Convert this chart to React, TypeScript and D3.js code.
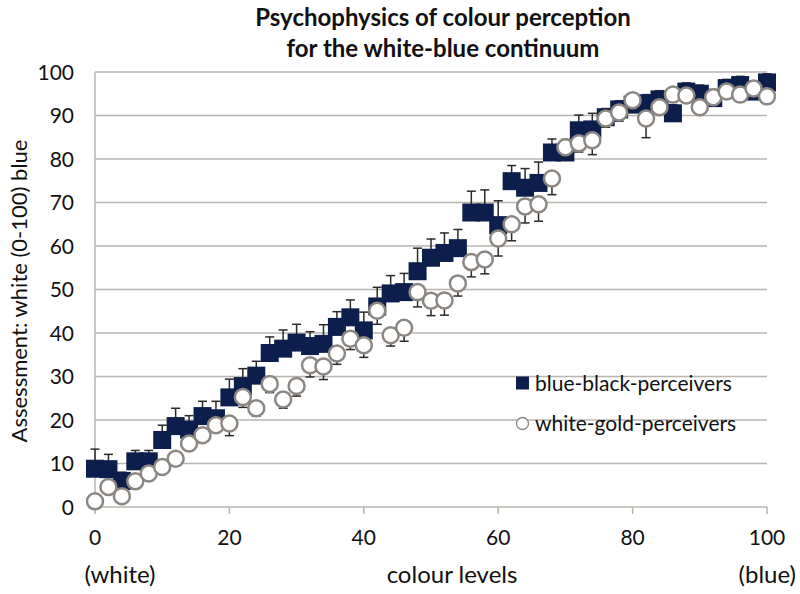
import React from "react";
import * as d3 from "d3";

const levels = [0,2,4,6,8,10,12,14,16,18,20,22,24,26,28,30,32,34,36,38,40,42,44,46,48,50,52,54,56,58,60,62,64,66,68,70,72,74,76,78,80,82,84,86,88,90,92,94,96,98,100];

const blueBlack = [8.8,8.7,6,10.5,10.5,15.4,18.6,17.8,20.9,20.4,25.2,27.8,30.2,35.4,36.4,37.8,37,37.5,41.4,43.6,40.6,46.1,49.1,49.4,54.2,57.3,58.4,59.5,67.7,67.7,64.8,74.9,73.4,74.5,81.5,81.5,86.6,86.8,89.6,91.4,92.5,92.8,93.7,90.5,95.5,95,94,96.3,97,95.5,97.6];
const blueBlackErr = [4.5,3.4,2,2.5,2.5,3.4,4.1,3.2,3.4,3.9,4.2,4,3.3,3.7,4.3,4.2,3.3,4.4,3.5,4,4.2,4.4,4.1,4.3,5.3,4.3,4.6,4.3,4.9,5.2,5.6,3.6,4.4,4.8,3.1,3,3.5,3.7,2,2,2,2,2,2,2,2,2,2,2,2,2];

const whiteGold = [1.3,4.6,2.5,5.9,7.7,9.2,11.1,14.6,16.5,18.8,19.2,25.3,22.7,28.3,24.7,27.8,32.6,32.3,35.3,38.7,37.2,45.1,39.5,41.2,49.4,47.4,47.5,51.4,56.3,56.9,61.7,65,69.1,69.6,75.5,82.7,83.6,84.3,89.3,90.7,93.5,89.3,91.9,94.8,94.6,91.9,94.2,95.5,94.8,96.2,94.4];
const whiteGoldErr = [1.5,1.5,1.5,1.5,1.5,1.5,1.5,1.5,1.5,1.5,2.8,2.4,1.8,2,2,2.3,2.7,3,2.5,2.5,2.8,3.1,2.5,3.1,3.4,3.4,3.4,2.9,3.4,3.3,4,3.8,3.8,3.9,3.7,2,2,3.3,2,2,2,4.4,1.5,1.5,1.5,1.5,1.5,1.5,1.5,1.5,1.5];

const yTicks = [0,10,20,30,40,50,60,70,80,90,100];
const xTicks = [0,20,40,60,80,100];
const seriesNames = ["blue-black-perceivers", "white-gold-perceivers"];

const FONT = "Lato, 'Open Sans', sans-serif";
const NAVY = "#0c1f4c";
const GRID = "#bab4ae";

export default function App() {
  const x = d3.scaleLinear().domain([0, 100]).range([95, 767]);
  const y = d3.scaleLinear().domain([0, 100]).range([507, 72]);
  const sq = 18;
  const r = 8;
  const cap = 4.5;

  return (
    <div style={{ position: "absolute", left: 0, top: 0 }}>
      <svg width={800} height={594} style={{ display: "block", background: "#fff" }} fontFamily={FONT}>
        <text x={443} y={26} textAnchor="middle" fontSize={24} fontWeight="bold" fill="#111">Psychophysics of colour perception</text>
        <text x={443} y={57} textAnchor="middle" fontSize={24} fontWeight="bold" fill="#111">for the white-blue continuum</text>

        {yTicks.slice(1).map((t) => (
          <line key={"g" + t} x1={x(0)} x2={x(100)} y1={y(t)} y2={y(t)} stroke={GRID} strokeWidth={1.5} />
        ))}
        <line x1={x(0)} x2={x(0)} y1={y(0)} y2={y(100)} stroke={GRID} strokeWidth={1.5} />
        <line x1={x(0)} x2={x(100)} y1={y(0)} y2={y(0)} stroke={GRID} strokeWidth={1.5} />
        {xTicks.map((t) => (
          <line key={"xt" + t} x1={x(t)} x2={x(t)} y1={y(0)} y2={y(0) + 7} stroke={GRID} strokeWidth={1.5} />
        ))}
        {yTicks.map((t) => (
          <text key={"yl" + t} x={74} y={y(t)} dy="0.36em" textAnchor="end" fontSize={21} fill="#111">{t}</text>
        ))}
        {xTicks.map((t) => (
          <text key={"xl" + t} x={x(t)} y={545} textAnchor="middle" fontSize={21} fill="#111">{t}</text>
        ))}
        <text x={120} y={583} textAnchor="middle" fontSize={24} fill="#111">(white)</text>
        <text x={452} y={583} textAnchor="middle" fontSize={24} fill="#111">colour levels</text>
        <text x={796} y={583} textAnchor="end" fontSize={24} fill="#111">(blue)</text>
        <text transform="translate(27,291) rotate(-90)" textAnchor="middle" fontSize={22} fill="#111">Assessment: white (0-100) blue</text>

        {/* blue-black error bars */}
        {levels.map((lv, i) => {
          const cx = x(lv), top = y(blueBlack[i] + blueBlackErr[i]);
          return (
            <g key={"be" + i} stroke="#2a2a2a" strokeWidth={1.5}>
              <line x1={cx} x2={cx} y1={y(blueBlack[i])} y2={top} />
              <line x1={cx - cap} x2={cx + cap} y1={top} y2={top} />
            </g>
          );
        })}
        {levels.map((lv, i) => (
          <rect key={"bs" + i} x={x(lv) - sq / 2} y={y(blueBlack[i]) - sq / 2} width={sq} height={sq} fill={NAVY} />
        ))}

        {/* white-gold error bars */}
        {levels.map((lv, i) => {
          const cx = x(lv), bot = y(whiteGold[i] - whiteGoldErr[i]);
          return (
            <g key={"we" + i} stroke="#2a2a2a" strokeWidth={1.5}>
              <line x1={cx} x2={cx} y1={y(whiteGold[i])} y2={bot} />
              <line x1={cx - cap} x2={cx + cap} y1={bot} y2={bot} />
            </g>
          );
        })}
        {levels.map((lv, i) => (
          <circle key={"wc" + i} cx={x(lv)} cy={y(whiteGold[i])} r={r} fill="#fff" stroke="#8c8782" strokeWidth={2.5} />
        ))}

        {/* legend */}
        <rect x={516} y={376.5} width={13} height={13} fill={NAVY} />
        <text x={535} y={383} dy="0.36em" fontSize={21} fill="#111">{seriesNames[0]}</text>
        <circle cx={522.5} cy={423.5} r={6} fill="#fff" stroke="#8c8782" strokeWidth={1.3} />
        <text x={535} y={423.5} dy="0.36em" fontSize={21} fill="#111">{seriesNames[1]}</text>
      </svg>
    </div>
  );
}
